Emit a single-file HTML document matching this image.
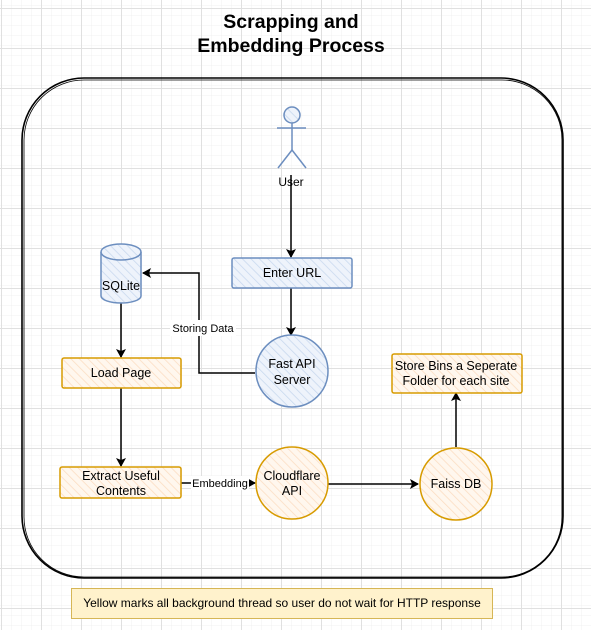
<!DOCTYPE html>
<html><head><meta charset="utf-8"><style>
html,body{margin:0;padding:0;background:#fff;}
svg{display:block;font-family:"Liberation Sans",Arial,sans-serif;}
</style></head><body>
<svg width="591" height="630" viewBox="0 0 591 630" xmlns="http://www.w3.org/2000/svg">
<defs>
<pattern id="minor" width="10" height="10" patternUnits="userSpaceOnUse" x="1" y="8">
<path d="M10 0V10M0 10H10" fill="none" stroke="#f0f0f0" stroke-width="1"/>
</pattern>
<pattern id="major" width="40" height="40" patternUnits="userSpaceOnUse" x="1" y="8">
<rect width="40" height="40" fill="url(#minor)"/>
<path d="M0.5 0V40M0 0.5H40" fill="none" stroke="#e0e0e0" stroke-width="1"/>
</pattern>
<pattern id="hb" width="6" height="6" patternUnits="userSpaceOnUse" patternTransform="rotate(-45)">
<rect width="6" height="6" fill="#eef3fb"/><line x1="0" y1="0" x2="0" y2="6" stroke="#c7d7ee" stroke-width="1.5"/>
</pattern>
<pattern id="ho" width="6" height="6" patternUnits="userSpaceOnUse" patternTransform="rotate(-45)">
<rect width="6" height="6" fill="#fff7ee"/><line x1="0" y1="0" x2="0" y2="6" stroke="#fbdcc0" stroke-width="1.5"/>
</pattern>
<marker id="ar" markerWidth="10" markerHeight="10" refX="8" refY="5" orient="auto" markerUnits="userSpaceOnUse">
<path d="M0 0L9 5L0 10L2 5Z" fill="#000"/>
</marker>
</defs>
<rect width="591" height="630" fill="url(#major)"/>

<text x="291" y="28" font-size="19.5" font-weight="bold" text-anchor="middle">Scrapping and</text>
<text x="291" y="52" font-size="19.5" font-weight="bold" text-anchor="middle">Embedding Process</text>

<rect x="22" y="78" width="541" height="500" rx="62" fill="none" stroke="#000" stroke-width="1.6"/>
<rect x="24" y="80" width="538" height="497" rx="60" fill="none" stroke="#000" stroke-width="0.8"/>

<!-- actor -->
<g stroke="#6c8ebf" stroke-width="1.5" fill="none">
<circle cx="292" cy="115" r="8" fill="url(#hb)"/>
<line x1="292" y1="123" x2="292" y2="150"/>
<line x1="277" y1="128" x2="306" y2="128"/>
<line x1="292" y1="150" x2="278" y2="168"/>
<line x1="292" y1="150" x2="306" y2="168"/>
</g>
<text x="291" y="186" font-size="12" text-anchor="middle">User</text>

<g stroke="#000" stroke-width="1.5" fill="none" marker-end="url(#ar)">
<line x1="291" y1="175" x2="291" y2="257"/>
<line x1="291" y1="288" x2="291" y2="335"/>
<path d="M255 373H199V273H143"/>
<line x1="121" y1="303" x2="121" y2="357"/>
<line x1="121" y1="388" x2="121" y2="466"/>
<line x1="181" y1="483" x2="255" y2="483"/>
<line x1="328" y1="484" x2="418" y2="484"/>
<line x1="456" y1="447" x2="456" y2="393"/>
</g>

<rect x="232" y="258" width="120" height="30" rx="2" fill="url(#hb)" stroke="#6c8ebf" stroke-width="1.5"/>
<text x="292" y="277" font-size="12.5" text-anchor="middle">Enter URL</text>

<circle cx="292" cy="371" r="36" fill="url(#hb)" stroke="#6c8ebf" stroke-width="1.5"/>
<text x="292" y="368" font-size="12.5" text-anchor="middle">Fast API</text>
<text x="292" y="384" font-size="12.5" text-anchor="middle">Server</text>

<path d="M101 252V296A20 7 0 0 0 141 296V252" fill="url(#hb)" stroke="#6c8ebf" stroke-width="1.5"/>
<ellipse cx="121" cy="252" rx="20" ry="8" fill="url(#hb)" stroke="#6c8ebf" stroke-width="1.5"/>
<text x="121" y="290" font-size="12.5" text-anchor="middle">SQLite</text>

<rect x="170" y="320" width="66" height="16" fill="#fff"/>
<text x="203" y="332" font-size="11" text-anchor="middle">Storing Data</text>

<rect x="62" y="358" width="119" height="30" rx="2" fill="url(#ho)" stroke="#d79b00" stroke-width="1.5"/>
<text x="121" y="377" font-size="12.5" text-anchor="middle">Load Page</text>

<rect x="60" y="467" width="121" height="31" rx="2" fill="url(#ho)" stroke="#d79b00" stroke-width="1.5"/>
<text x="121" y="480" font-size="12.5" text-anchor="middle">Extract Useful</text>
<text x="121" y="495" font-size="12.5" text-anchor="middle">Contents</text>

<rect x="191" y="476" width="58" height="14" fill="#fff"/>
<text x="220" y="487" font-size="11" text-anchor="middle">Embedding</text>

<circle cx="292" cy="483" r="36" fill="url(#ho)" stroke="#d79b00" stroke-width="1.5"/>
<text x="292" y="480" font-size="12.5" text-anchor="middle">Cloudflare</text>
<text x="292" y="495" font-size="12.5" text-anchor="middle">API</text>

<circle cx="456" cy="484" r="36" fill="url(#ho)" stroke="#d79b00" stroke-width="1.5"/>
<text x="456" y="488" font-size="12.5" text-anchor="middle">Faiss DB</text>

<rect x="392" y="354" width="130" height="39" rx="2" fill="url(#ho)" stroke="#d79b00" stroke-width="1.5"/>
<text x="456" y="370" font-size="12.5" text-anchor="middle">Store Bins a Seperate</text>
<text x="456" y="385" font-size="12.5" text-anchor="middle">Folder for each site</text>

<rect x="71.5" y="588.5" width="421" height="30" fill="#fff2cc" stroke="#d6b656" stroke-width="1"/>
<text x="282" y="607" font-size="12" text-anchor="middle">Yellow marks all background thread so user do not wait for HTTP response</text>
</svg>
</body></html>
